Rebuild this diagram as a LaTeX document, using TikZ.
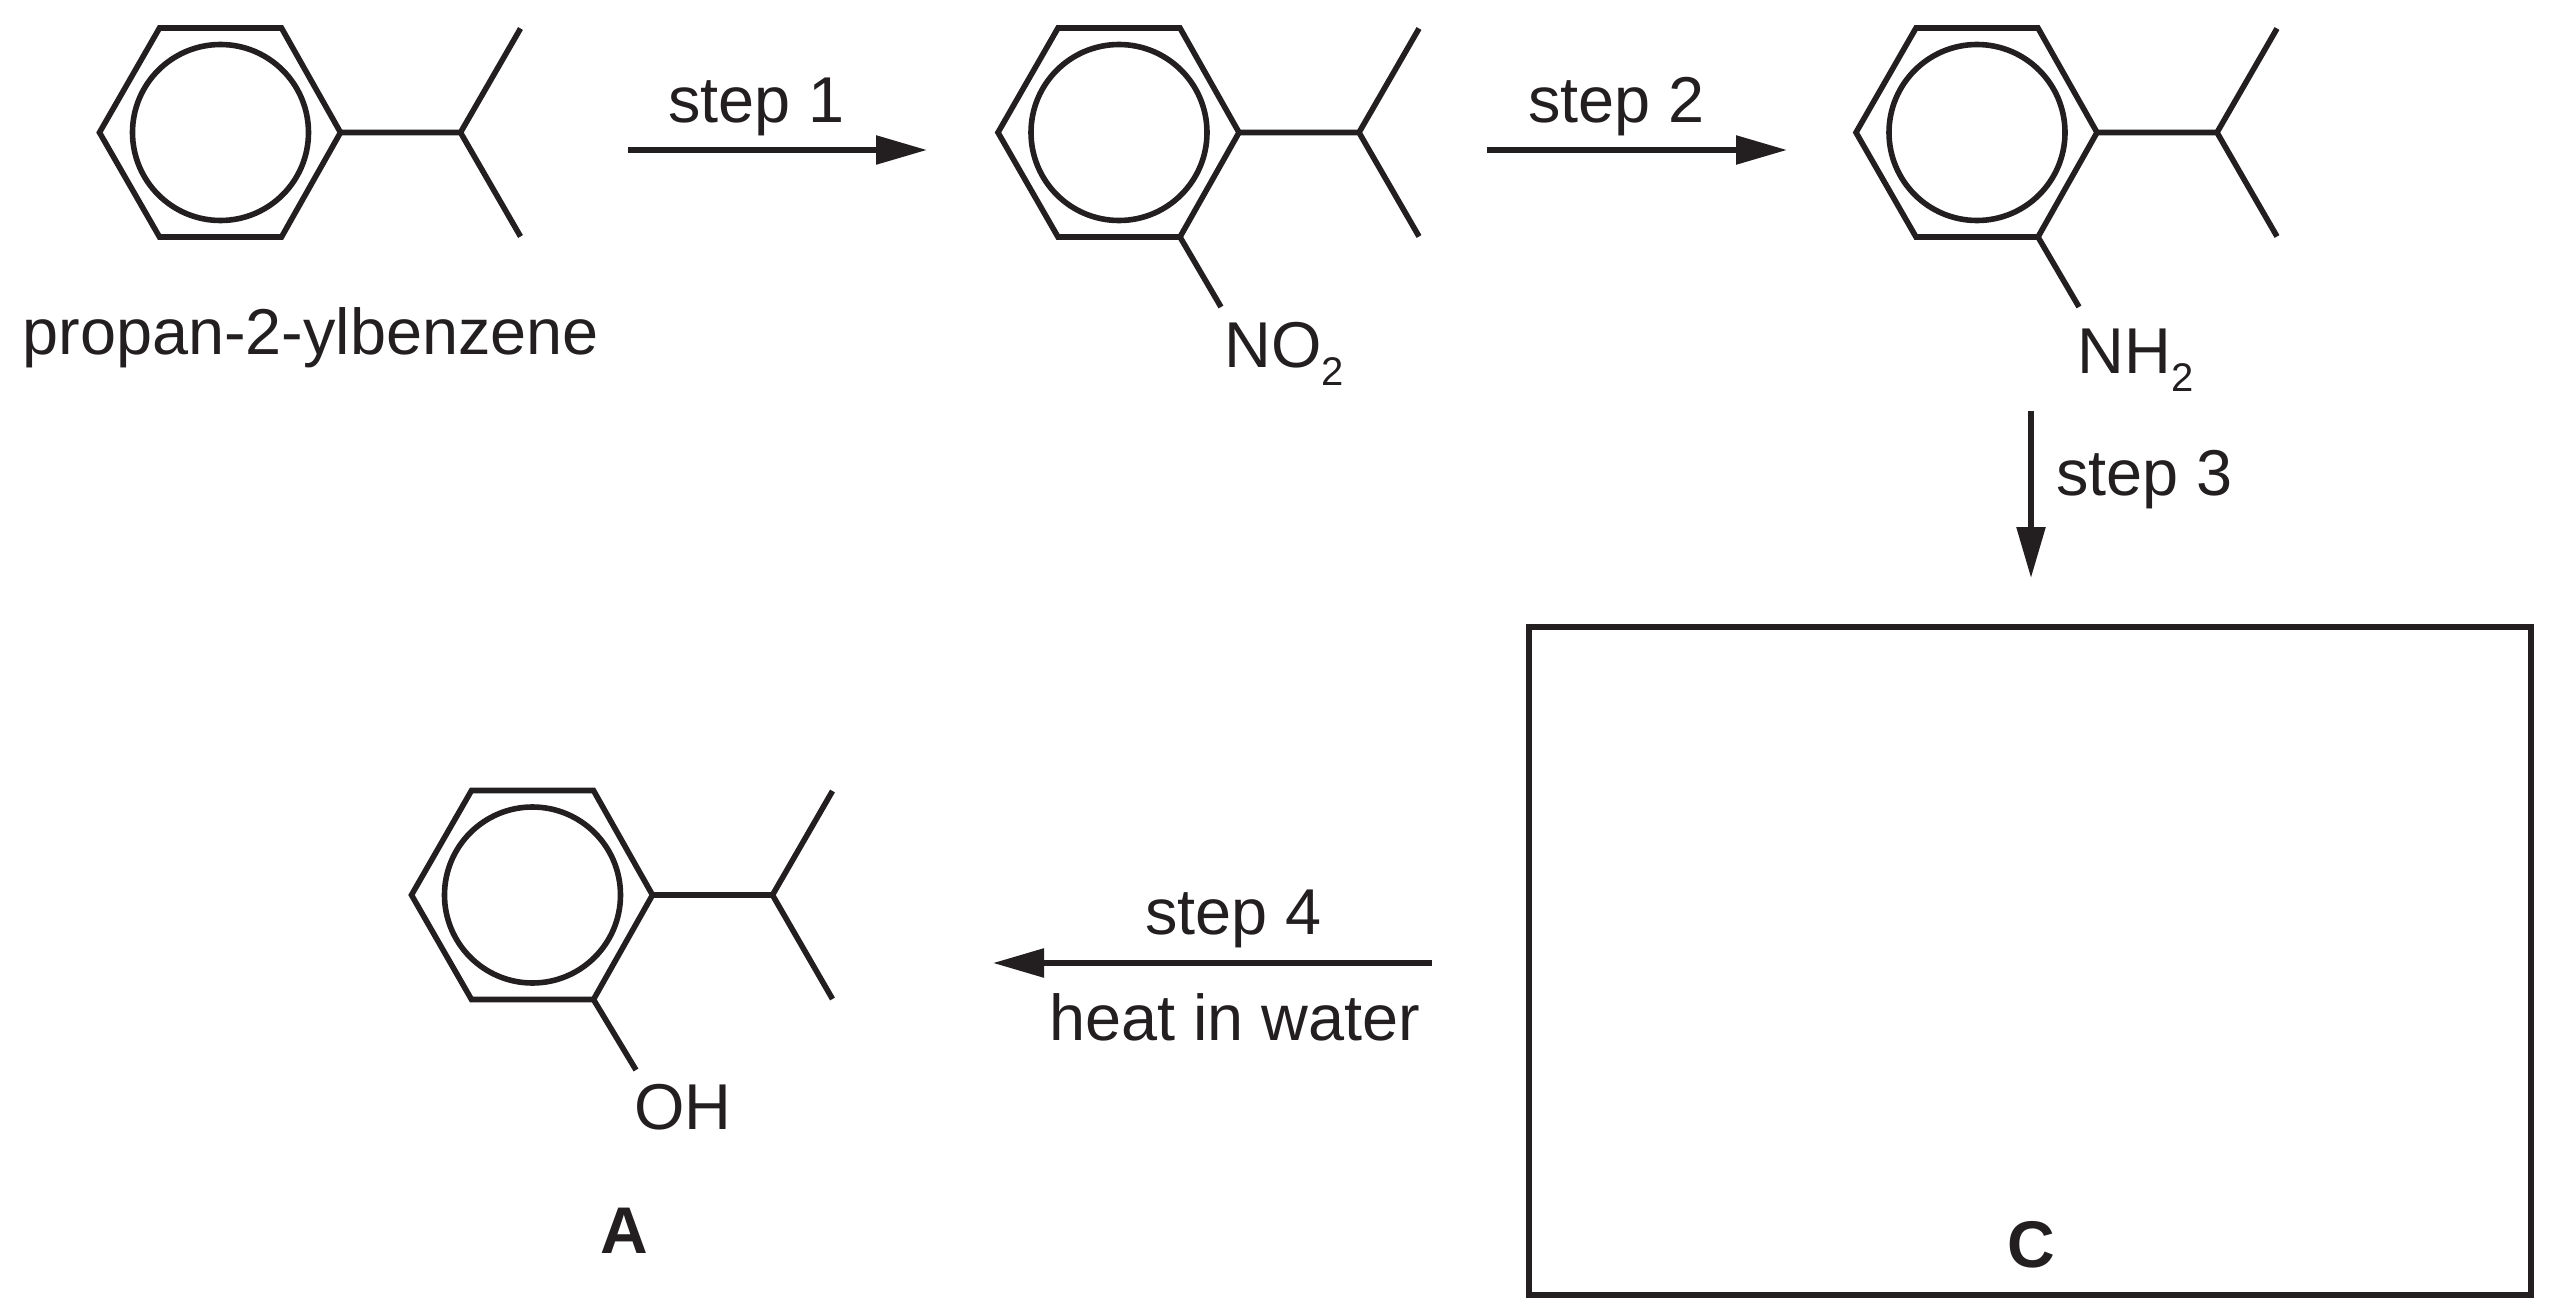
\documentclass[tikz,border=0pt]{standalone}
\usepackage{fontspec}
\setmainfont{Liberation Sans}
\usetikzlibrary{arrows.meta}
\definecolor{ink}{HTML}{231F20}
\newcommand{\subtwo}{\raisebox{-9pt}{\fontsize{20pt}{20pt}\selectfont 2}}
\tikzset{
  bond/.style={draw=ink,line width=2.8pt,line join=miter},
  box/.style={draw=ink,line width=2.8pt},
  rxn/.style={draw=ink,line width=2.8pt,-{Triangle[length=25.5pt,width=14pt]}},
  lab/.style={text=ink,inner sep=0pt,anchor=base west,font=\fontsize{32.4pt}{36pt}\selectfont},
  bold/.style={lab,font=\fontsize{33pt}{36pt}\selectfont\bfseries},
  cumene/.pic={
    \coordinate (a) at (-121,0);
    \coordinate (b) at (-61,-104.5);
    \coordinate (c) at (61,-104.5);
    \coordinate (d) at (120,0);
    \coordinate (e) at (61,104.5);
    \coordinate (f) at (-61,104.5);
    \coordinate (g) at (240,0);
    \coordinate (h) at (300,-104);
    \coordinate (i) at (300,104);
    \draw[bond] (a) -- (b) -- (c) -- (d) -- (e) -- (f) -- cycle;
    \draw[bond] (0,0) circle[radius=88];
    \draw[bond] (d) -- (g) (h) -- (g) -- (i);
  }
}
\begin{document}
\begin{tikzpicture}[x=0.5pt,y=-0.5pt]
\useasboundingbox (0,0) rectangle (2556,1316);
\pic (m1) at (220.5,132.5) {cumene};
\pic (m2) at (1119,132.5) {cumene};
\pic (m3) at (1977,132.5) {cumene};
\pic (m4) at (532.5,895) {cumene};

\node[lab] (name) at (22,355) {propan-2-ylbenzene};
\node[lab] (no2) at (1224,368) {NO\subtwo};
\node[lab] (nh2) at (2077,374) {NH\subtwo};
\node[lab] (oh) at (634,1129) {OH};
\draw[bond] (m2e) -- (1221,307) coordinate (no2bond);
\draw[bond] (m3e) -- (2079,307) coordinate (nh2bond);
\draw[bond] (m4e) -- (636,1070) coordinate (ohbond);

\coordinate (a1s) at (628,150); \coordinate (a1e) at (927,150);
\coordinate (a2s) at (1487,150); \coordinate (a2e) at (1787,150);
\coordinate (a3s) at (2031,411); \coordinate (a3e) at (2031,578);
\coordinate (a4s) at (1432,963); \coordinate (a4e) at (993,963);
\draw[rxn] (a1s) -- (a1e);
\draw[rxn] (a2s) -- (a2e);
\draw[rxn] (a3s) -- (a3e);
\draw[rxn] (a4s) -- (a4e);

\node[lab] (s1) at (668,123) {step 1};
\node[lab] (s2) at (1528,123) {step 2};
\node[lab] (s3) at (2056,495) {step 3};
\node[lab] (s4) at (1145,934) {step 4};
\node[lab] (heat) at (1049,1040) {heat in water};

\node[box,minimum width=501pt,minimum height=334pt,inner sep=0pt] (cbox) at (2030,961) {};
\node[bold] (lc) at (2007,1267) {C};
\node[bold] (la) at (600,1253) {A};
\end{tikzpicture}
\end{document}
